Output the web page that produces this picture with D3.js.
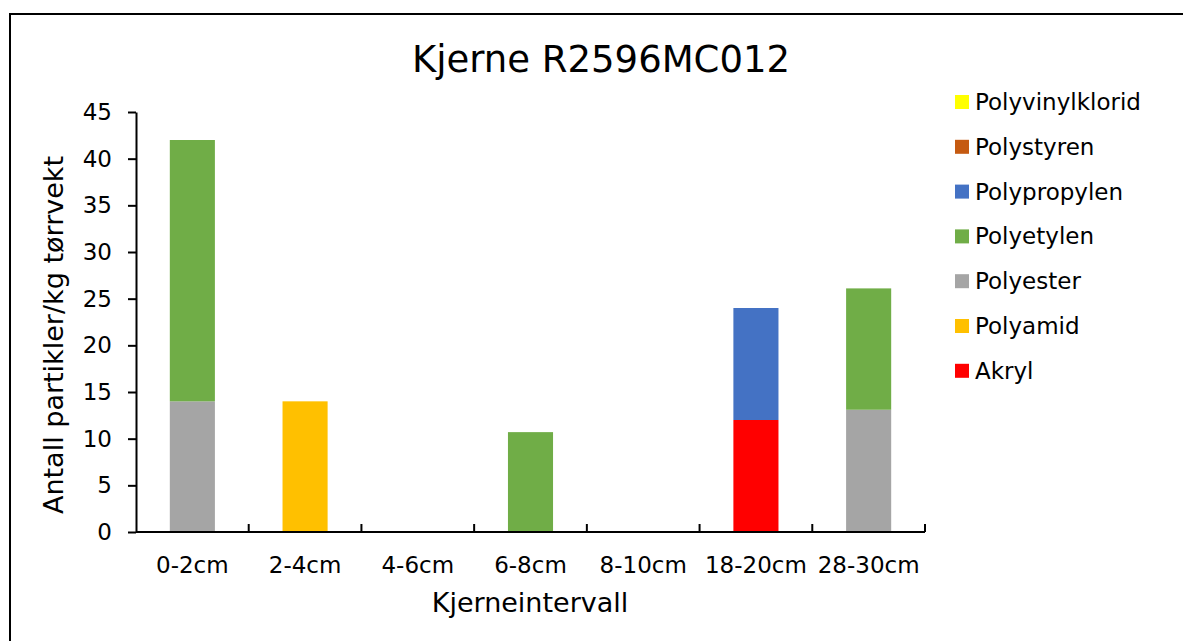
<!DOCTYPE html>
<html lang="no">

<head>
    <meta charset="UTF-8" />
    <title>Kjerne R2596MC012</title>

    <script src="https://d3js.org/d3.v7.min.js"></script>

    <style>
        body {
            margin: 0;
            background: #fff;
        }

        svg text {
            font-family: "DejaVu Sans", Verdana, sans-serif;
            fill: #000;
        }
    </style>

</head>

<body>

    <script>

        // data
        var categories = ["0-2cm", "2-4cm", "4-6cm", "6-8cm", "8-10cm", "18-20cm", "28-30cm"];
        var yTicks = [0, 5, 10, 15, 20, 25, 30, 35, 40, 45];

        // stack order, bottom to top
        var seriesNames = ["Akryl", "Polyamid", "Polyester", "Polyetylen", "Polypropylen", "Polystyren", "Polyvinylklorid"];
        var akryl = [0, 0, 0, 0, 0, 12, 0];
        var polyamid = [0, 14, 0, 0, 0, 0, 0];
        var polyester = [14, 0, 0, 0, 0, 0, 13.1];
        var polyetylen = [28, 0, 0, 10.7, 0, 0, 13];
        var polypropylen = [0, 0, 0, 0, 0, 12, 0];
        var polystyren = [0, 0, 0, 0, 0, 0, 0];
        var polyvinylklorid = [0, 0, 0, 0, 0, 0, 0];
        var seriesColors = ["#ff0000", "#ffc000", "#a5a5a5", "#70ad47", "#4472c4", "#c55a11", "#ffff00"];

        var w = 1183;
        var h = 641;

        var svg = d3.select("body")
            .append("svg")
            .attr("width", w)
            .attr("height", h);

        // chart border
        svg.append("rect")
            .attr("x", 10)
            .attr("y", 14)
            .attr("width", 1200)
            .attr("height", 700)
            .attr("fill", "none")
            .attr("stroke", "#000")
            .attr("stroke-width", 2);

        // build table for the stack
        var allValues = [akryl, polyamid, polyester, polyetylen, polypropylen, polystyren, polyvinylklorid];
        var table = categories.map(function (c, i) {
            var row = { cat: c };
            seriesNames.forEach(function (s, j) { row[s] = allValues[j][i]; });
            return row;
        });
        var stacked = d3.stack().keys(seriesNames)(table);

        var x0 = 136, x1 = 925;

        var xScale = d3.scaleBand()
            .domain(categories)
            .range([x0, x1])
            .paddingInner(0.6)
            .paddingOuter(0.3);

        var yScale = d3.scaleLinear()
            .domain([0, 45])
            .range([532, 112]);

        var color = d3.scaleOrdinal()
            .domain(seriesNames)
            .range(seriesColors);

        // bars
        svg.append("g")
            .selectAll("g")
            .data(stacked)
            .enter()
            .append("g")
            .attr("fill", function (d) { return color(d.key); })
            .selectAll("rect")
            .data(function (d) { return d; })
            .enter()
            .append("rect")
            .attr("x", function (d) { return xScale(d.data.cat); })
            .attr("y", function (d) { return yScale(d[1]); })
            .attr("width", xScale.bandwidth())
            .attr("height", function (d) { return yScale(d[0]) - yScale(d[1]); });

        // Y axis
        var yAxis = svg.append("g")
            .attr("transform", "translate(" + x0 + ",0)")
            .call(d3.axisLeft(yScale).tickValues(yTicks).tickSize(8).tickSizeOuter(0).tickPadding(16));
        yAxis.selectAll("text").style("font-size", "23px");

        // X axis, labels centred under bars
        var xAxis = svg.append("g")
            .attr("transform", "translate(0,532)")
            .call(d3.axisBottom(xScale).tickSize(0).tickSizeOuter(0).tickPadding(25));
        xAxis.selectAll("text").style("font-size", "23px");
        xAxis.select(".domain").attr("d", "M" + x0 + ",0H" + x1);

        // X tick marks between categories (pointing up)
        var step = xScale.step();
        var boundaries = d3.range(1, categories.length + 1).map(function (i) { return x0 + i * step; });
        xAxis.selectAll(".sep")
            .data(boundaries)
            .enter()
            .append("line")
            .attr("class", "sep")
            .attr("x1", function (d) { return d; })
            .attr("x2", function (d) { return d; })
            .attr("y1", 0)
            .attr("y2", -8)
            .attr("stroke", "#000");

        svg.selectAll(".domain, .tick line, .sep")
            .attr("stroke", "#000")
            .attr("stroke-width", 2);

        // title
        svg.append("text")
            .attr("text-anchor", "middle")
            .attr("x", 601)
            .attr("y", 72)
            .style("font-size", "37px")
            .text("Kjerne R2596MC012");

        // axis titles
        svg.append("text")
            .attr("text-anchor", "middle")
            .attr("x", 530)
            .attr("y", 612)
            .style("font-size", "27px")
            .text("Kjerneintervall");

        svg.append("text")
            .attr("text-anchor", "middle")
            .attr("transform", "rotate(-90)")
            .attr("x", -335)
            .attr("y", 63)
            .style("font-size", "27px")
            .text("Antall partikler/kg tørrvekt");

        // legend, top entry is last series
        var legendNames = seriesNames.slice().reverse();
        var legend = svg.selectAll(".legend")
            .data(legendNames)
            .enter()
            .append("g")
            .attr("class", "legend")
            .attr("transform", function (d, i) { return "translate(955," + (102 + i * 44.8) + ")"; });

        legend.append("rect")
            .attr("x", 0)
            .attr("y", -7)
            .attr("width", 14)
            .attr("height", 14)
            .attr("fill", function (d) { return color(d); });

        legend.append("text")
            .attr("x", 20)
            .attr("y", 8)
            .style("font-size", "23px")
            .text(function (d) { return d; });

    </script>

</body>

</html>
